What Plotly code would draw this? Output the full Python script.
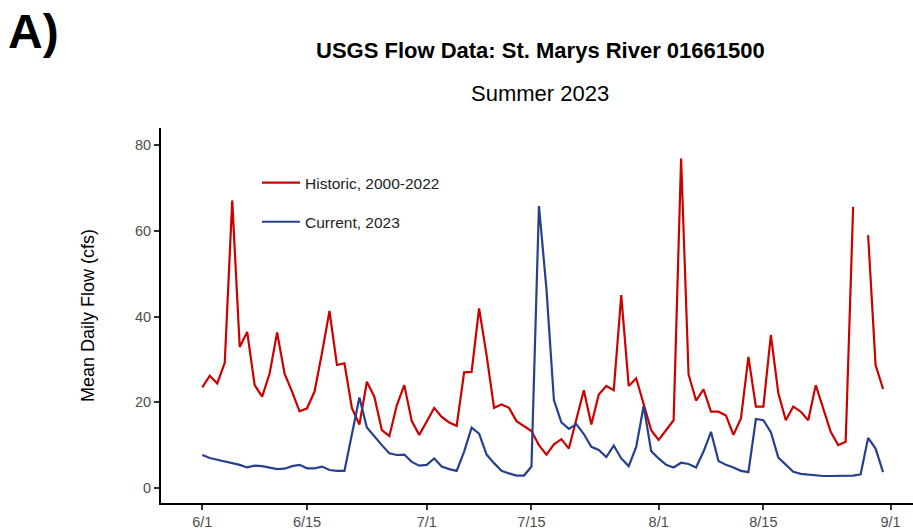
import pandas as pd
import plotly.graph_objects as go

# Daily dates, June 1 - August 31
dates = pd.date_range("2023-06-01", "2023-08-31", freq="D")

# Mean daily flow (cfs), historic average 2000-2022
historic = [
    23.5, 26.2, 24.4, 29.2, 67.1, 32.9, 36.4, 24.0, 21.3, 26.7,
    36.3, 26.7, 22.5, 17.9, 18.6, 22.5, 31.5, 41.3, 28.7, 29.1,
    18.6, 14.8, 24.8, 21.3, 13.5, 12.1, 19.3, 24.0, 15.6, 12.4,
    15.5, 18.7, 16.6, 15.3, 14.5, 27.0, 27.1, 41.9, 31.0, 18.7,
    19.5, 18.7, 15.6, 14.5, 13.3, 10.0, 7.8, 10.2, 11.4, 9.2,
    15.8, 22.8, 14.8, 21.8, 23.8, 22.8, 45.0, 23.8, 25.6, 19.7,
    13.5,
    11.2, 13.5, 15.8, 76.9, 26.5, 20.4, 23.0, 17.8, 17.8, 16.9,
    12.4, 16.2, 30.6, 19.0, 19.0, 35.7, 22.1, 15.8, 19.0, 17.8,
    15.8, 24.0, 18.6, 13.1, 10.0, 10.8, 65.6, None, 59.0, 28.7,
    23.1,
]

# Mean daily flow (cfs), current year 2023
current = [
    7.7, 7.0, 6.6, 6.2, 5.8, 5.4, 4.8, 5.2, 5.1, 4.7,
    4.4, 4.5, 5.1, 5.4, 4.6, 4.6, 5.0, 4.2, 4.0, 4.0,
    12.4, 21.1, 14.1, 12.0, 10.0, 8.1, 7.7, 7.8, 6.1, 5.2,
    5.4, 6.9, 5.0, 4.4, 4.0, 8.5, 14.1, 12.7, 7.8, 5.8,
    4.0, 3.4, 2.9, 2.9, 5.0, 65.8, 46.5, 20.5, 15.3, 13.8,
    14.9, 12.6, 9.6, 8.9, 7.2, 9.9, 6.9, 5.1, 9.6, 19.2,
    8.6,
    6.9, 5.4, 4.8, 5.9, 5.6, 4.8, 8.5, 13.1, 6.3, 5.4,
    4.8, 4.0, 3.7, 16.1, 15.8, 13.0, 7.1, 5.4, 3.8, 3.3,
    3.1, 2.9, 2.8, 2.8, 2.8, 2.9, 2.9, 3.2, 11.7, 9.2,
    3.7,
]

tick_dates = ["2023-06-01", "2023-06-15", "2023-07-01", "2023-07-15",
              "2023-08-01", "2023-08-15", "2023-09-01"]
tick_labels = ["6/1", "6/15", "7/1", "7/15", "8/1", "8/15", "9/1"]
y_ticks = [0, 20, 40, 60, 80]

RED = "#CD0000"
BLUE = "#27408B"
FONT = "Liberation Sans, Arial, sans-serif"

# Plot panel geometry in pixels
ML, MR, MT, MB = 161, 0, 128, 28
W, H = 913, 531
plot_w, plot_h = W - ML - MR, H - MT - MB


def px_to_paper(px, py):
    return (px - ML) / plot_w, (H - MB - py) / plot_h


fig = go.Figure()
fig.add_trace(go.Scatter(
    x=dates, y=historic, mode="lines", name="Historic, 2000-2022",
    line=dict(color=RED, width=2.2), connectgaps=False, legendgroup="h",
))
fig.add_trace(go.Scatter(
    x=dates, y=current, mode="lines", name="Current, 2023",
    line=dict(color=BLUE, width=2.2), legendgroup="c",
))

lx, ly = px_to_paper(257, 166)

fig.update_layout(
    width=W, height=H,
    margin=dict(l=ML, r=MR, t=MT, b=MB),
    paper_bgcolor="white", plot_bgcolor="white",
    font=dict(family=FONT, color="#222222"),
    showlegend=True,
    legend=dict(
        x=lx, xanchor="left", y=ly, yanchor="top",
        bgcolor="rgba(0,0,0,0)", font=dict(size=15.5, color="#222222"),
        tracegroupgap=16, traceorder="grouped", itemwidth=38,
    ),
    xaxis=dict(
        range=["2023-05-26 11:30", "2023-09-04"],
        tickvals=tick_dates, ticktext=tick_labels,
        showgrid=False, zeroline=False,
        showline=True, linecolor="black", linewidth=2,
        ticks="outside", ticklen=5, tickwidth=1.5, tickcolor="#333333",
        tickfont=dict(size=14.5, color="#4D4D4D"),
    ),
    yaxis=dict(
        range=[-3.5, 84],
        tickvals=y_ticks,
        showgrid=False, zeroline=False,
        showline=True, linecolor="black", linewidth=2,
        ticks="outside", ticklen=5, tickwidth=1.5, tickcolor="#333333",
        tickfont=dict(size=14.5, color="#4D4D4D"),
    ),
)

ax, ay = px_to_paper(6, 31)
tx, ty = px_to_paper(540, 50)
sx, sy = px_to_paper(540, 93)
yx, yy = px_to_paper(88, 316)

fig.add_annotation(text="<b>A)</b>", x=ax, y=ay, xref="paper", yref="paper",
                   xanchor="left", yanchor="middle", showarrow=False,
                   font=dict(size=48, color="black", family=FONT))
fig.add_annotation(text="<b>USGS Flow Data: St. Marys River 01661500</b>",
                   x=tx, y=ty, xref="paper", yref="paper",
                   xanchor="center", yanchor="middle", showarrow=False,
                   font=dict(size=22, color="black", family=FONT))
fig.add_annotation(text="Summer 2023", x=sx, y=sy, xref="paper", yref="paper",
                   xanchor="center", yanchor="middle", showarrow=False,
                   font=dict(size=22, color="black", family=FONT))
fig.add_annotation(text="Mean Daily Flow (cfs)", x=yx, y=yy,
                   xref="paper", yref="paper", textangle=-90,
                   xanchor="center", yanchor="middle", showarrow=False,
                   font=dict(size=18, color="black", family=FONT))

fig.write_html("out.html")
